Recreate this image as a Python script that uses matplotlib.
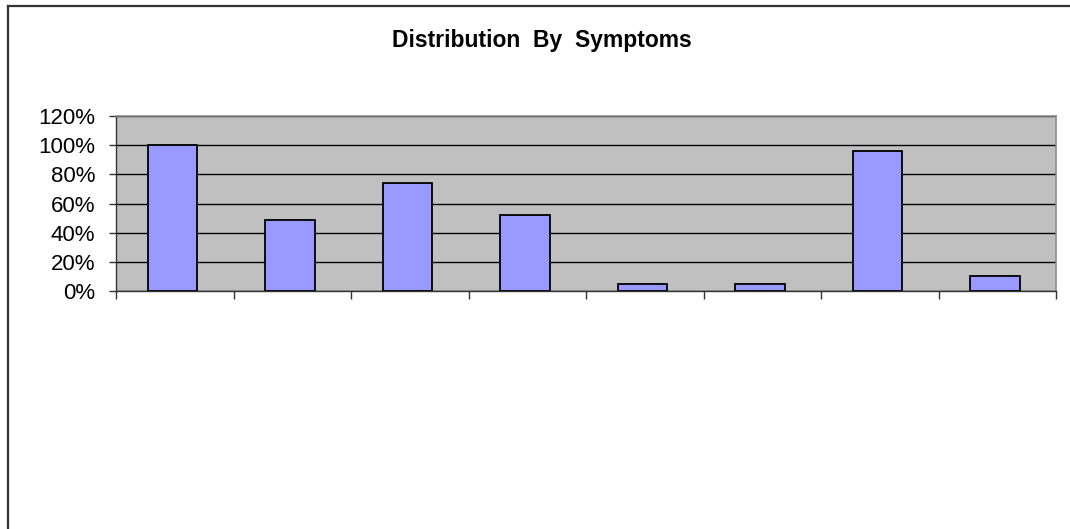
import matplotlib
matplotlib.use("Agg")
import matplotlib.pyplot as plt
from matplotlib.lines import Line2D
from matplotlib.ticker import FuncFormatter, FixedLocator, NullFormatter

plt.rcParams["font.family"] = ["Liberation Sans", "DejaVu Sans"]

# Share of cases showing each symptom (fractions of 1)
shares = [1.00, 0.49, 0.74, 0.52, 0.05, 0.05, 0.96, 0.10]
y_ticks = [0.0, 0.2, 0.4, 0.6, 0.8, 1.0, 1.2]
title = "Distribution  By  Symptoms"

W, H = 1070, 529
fig = plt.figure(figsize=(W / 100, H / 100), dpi=100)
fig.patch.set_facecolor("white")

# Chart frame (top and left edges visible)
fig.add_artist(Line2D([8 / W, 1.0], [1 - 6 / H, 1 - 6 / H], color="#333333", lw=1.6))
fig.add_artist(Line2D([8 / W, 8 / W], [1 - 6 / H, 0.0], color="#333333", lw=1.6))

left, right, top, bottom = 116, 1056, 116, 291
ax = fig.add_axes([left / W, 1 - bottom / H, (right - left) / W, (bottom - top) / H])
ax.set_facecolor("#C0C0C0")

n = len(shares)
x = [i - 0.02 for i in range(n)]
ax.bar(x, shares, width=0.42, color="#9999FF", edgecolor="black", linewidth=1.3, zorder=3)

ax.set_xlim(-0.5, n - 0.5)
ax.set_ylim(0, 1.2)

ax.yaxis.set_major_locator(FixedLocator(y_ticks))
ax.yaxis.set_major_formatter(FuncFormatter(lambda v, _: f"{v * 100:.0f}%"))
ax.xaxis.set_major_locator(FixedLocator([i - 0.5 for i in range(n + 1)]))
ax.xaxis.set_major_formatter(NullFormatter())

ax.grid(axis="y", color="black", linewidth=1.0, zorder=1)
ax.set_axisbelow(True)

ax.tick_params(axis="y", direction="out", length=5, width=1.0, color="#333333",
               labelsize=16, labelcolor="black", pad=10)
ax.tick_params(axis="x", direction="out", length=6, width=1.0, color="#333333")

for side in ("left", "bottom"):
    ax.spines[side].set_color("#333333")
    ax.spines[side].set_linewidth(1.0)
for side in ("top", "right"):
    ax.spines[side].set_color("#8C8C8C")
    ax.spines[side].set_linewidth(1.2)

fig.text(542 / W, 1 - 40 / H, title, ha="center", va="center",
         fontsize=16.5, fontweight="bold", color="black")

fig.savefig("out.png", dpi=100, facecolor="white")
